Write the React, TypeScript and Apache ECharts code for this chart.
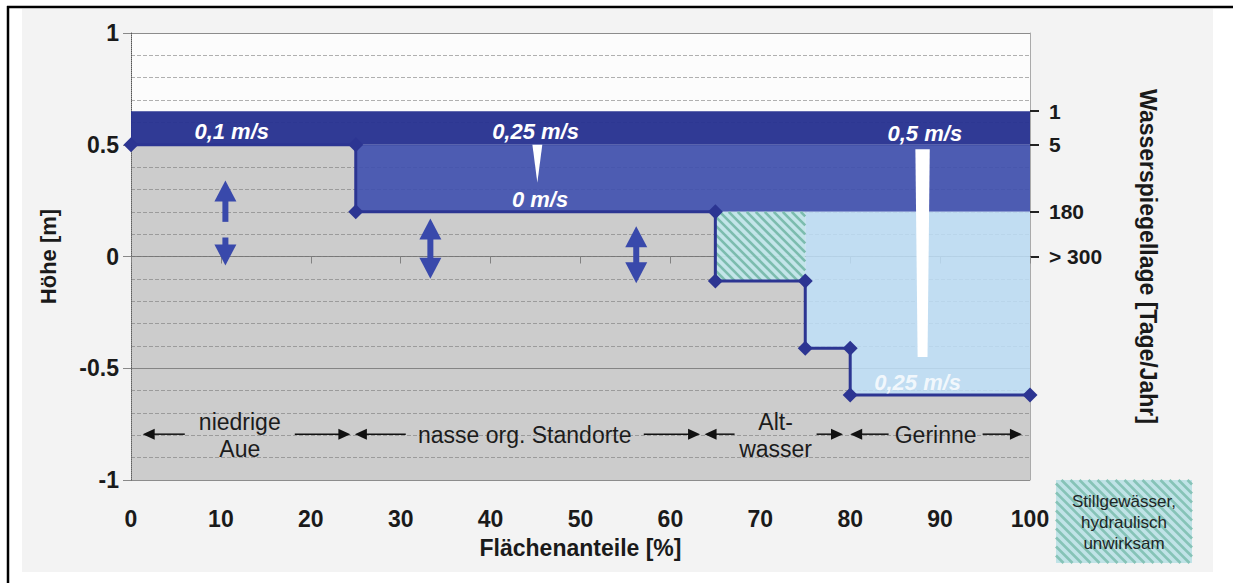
import React, { useEffect, useRef } from "react";
import * as echarts from "echarts";

const FONT = '"Liberation Sans", Arial, Helvetica, sans-serif';

// ---------------- data ----------------
// ground / water-level profile (Flächenanteil %, Höhe m)
const profileX = [0, 25, 25, 65, 65, 75, 75, 80, 80, 100];
const profileY = [0.5, 0.5, 0.2, 0.2, -0.11, -0.11, -0.41, -0.41, -0.62, -0.62];

// right axis: Wasserspiegellage [Tage/Jahr]
const waterLevelY = [0.65, 0.5, 0.2, 0];
const waterLevelDays = ["1", "5", "180", "> 300"];

// water bodies
const floodBandX = [0, 100];
const floodBandY = [0.5, 0.65];
const wetBandX = [25, 100];
const wetBandY = [0.2, 0.5];
const stillWaterX = [65, 75];
const stillWaterY = [-0.11, 0.2];
const channelFromX = 75;
const channelTopY = 0.2;

// white velocity markers
const markerTriangle = [[44.65, 0.5], [45.75, 0.5], [45.2, 0.33]];
const markerWedge = [[87.25, 0.48], [88.85, 0.48], [88.6, -0.45], [87.5, -0.45]];

// velocity labels
const velocityLabels = ["0,1 m/s", "0,25 m/s", "0 m/s", "0,5 m/s", "0,25 m/s"];
const velocityX = [11.2, 45, 45.5, 88.3, 87.5];
const velocityY = [0.56, 0.56, 0.255, 0.55, -0.565];

// double arrows (water table fluctuation)
const arrowX = [10.5, 33.3, 56.2];
const arrowTop = [0.34, 0.17, 0.135];
const arrowBottom = [-0.04, -0.1, -0.12];
const arrowGapTop = [0.155, null, null];
const arrowGapBottom = [0.085, null, null];

// zones along the x axis
const zoneLabels = ["niedrige\nAue", "nasse org. Standorte", "Alt-\nwasser", "Gerinne"];
const zoneStart = [1.3, 24.9, 63.8, 80.0];
const zoneEnd = [24.4, 63.3, 79.2, 99.1];
const zoneCenter = [12.1, 43.8, 71.7, 89.5];
const zoneY = -0.795;

const legendText = "Stillgewässer,\nhydraulisch\nunwirksam";

// ---------------- styles ----------------
const zoneGapPx = [55, 119, 41, 47];
const DARK = "#2c3592";

function rectPoly(xs: number[], ys: number[]) {
  return [[xs[0], ys[0]], [xs[0], ys[1]], [xs[1], ys[1]], [xs[1], ys[0]]];
}

const profilePts = profileX.map((x, i) => [x, profileY[i]]);
const greyPoly = [[0, -1], ...profilePts, [100, -1]];
const channelPoly = [
  [channelFromX, channelTopY],
  [100, channelTopY],
  ...profilePts.slice(profileX.lastIndexOf(channelFromX)).reverse(),
];

const fillPolys = [
  greyPoly,
  rectPoly(floodBandX, floodBandY),
  rectPoly(wetBandX, wetBandY),
  channelPoly,
  rectPoly(stillWaterX, stillWaterY),
  markerTriangle,
  markerWedge,
];
const fillStyles: any[] = [
  { fill: "rgba(118,118,118,0.36)" },
  { fill: "rgba(40,50,145,0.96)" },
  { fill: "rgba(64,80,172,0.93)" },
  { fill: "rgba(186,217,241,0.9)" },
  { fill: "rgba(192,228,232,0.95)", stripes: "#7cbcae" },
  { fill: "#ffffff" },
  { fill: "#ffffff" },
];

function stripeSegments(x0: number, y0: number, x1: number, y1: number, step: number) {
  const segs: number[][] = [];
  for (let c = y0 - x1 + step / 2; c < y1 - x0; c += step) {
    const xa = Math.max(x0, y0 - c);
    const xb = Math.min(x1, y1 - c);
    if (xb > xa) segs.push([xa, xa + c, xb, xb + c]);
  }
  return segs;
}

function stripeLines(x0: number, y0: number, x1: number, y1: number, color: string, step = 11, w = 3.2) {
  return stripeSegments(x0, y0, x1, y1, step).map((s) => ({
    type: "line",
    shape: { x1: s[0], y1: s[1], x2: s[2], y2: s[3] },
    style: { stroke: color, lineWidth: w },
    silent: true,
  }));
}

export default function App() {
  const ref = useRef<HTMLDivElement>(null);

  useEffect(() => {
    if (!ref.current) return;
    const chart = echarts.init(ref.current, undefined, { renderer: "svg" });

    const boldText = { fontFamily: FONT, fontWeight: "bold", color: "#1a1a1a" };

    const option: any = {
      animation: false,
      backgroundColor: "transparent",
      grid: {
        left: 131,
        right: 203,
        top: 33,
        bottom: 103,
        show: true,
        backgroundColor: "#fcfcfc",
        borderWidth: 0,
      },
      xAxis: {
        type: "value",
        min: 0,
        max: 100,
        interval: 10,
        name: "Flächenanteile [%]",
        nameLocation: "middle",
        nameGap: 56,
        nameTextStyle: { ...boldText, fontSize: 23 },
        axisLine: { show: true, lineStyle: { color: "#777", type: "dashed" } },
        axisTick: { show: true, length: 7, lineStyle: { color: "#888" } },
        axisLabel: { ...boldText, fontSize: 23, margin: 27 },
        splitLine: { show: false },
      },
      yAxis: [
        {
          type: "value",
          min: -1,
          max: 1,
          interval: 0.5,
          position: "left",
          name: "Höhe [m]",
          nameLocation: "middle",
          nameRotate: 90,
          nameGap: 72,
          nameTextStyle: { ...boldText, fontSize: 22 },
          axisLine: { show: true, lineStyle: { color: "#555", type: "dotted" } },
          axisTick: { show: true, length: 8, lineStyle: { color: "#888" } },
          axisLabel: { ...boldText, fontSize: 23, margin: 12 },
          splitLine: { show: true, lineStyle: { color: "#8c8c8c", width: 1 } },
          minorTick: { show: false, splitNumber: 5 },
          minorSplitLine: { show: true, lineStyle: { color: "#b0b0b0", type: "dashed", width: 1 } },
        },
        {
          type: "value",
          min: -1,
          max: 1,
          position: "right",
          name: "Wasserspiegellage [Tage/Jahr]",
          nameLocation: "middle",
          nameRotate: -90,
          nameGap: 106,
          nameTextStyle: { ...boldText, fontSize: 23 },
          axisLine: { show: true, lineStyle: { color: "#aaa" } },
          axisTick: {
            show: true,
            customValues: waterLevelY,
            length: 9,
            lineStyle: { color: "#222", width: 2 },
          },
          axisLabel: {
            ...boldText,
            fontSize: 21,
            margin: 19,
            customValues: waterLevelY,
            formatter: (v: number) => {
              const i = waterLevelY.findIndex((w) => Math.abs(w - v) < 1e-6);
              return i >= 0 ? waterLevelDays[i] : "";
            },
          },
          splitLine: { show: false },
        },
      ],
      series: [
        {
          type: "custom",
          name: "fills",
          z: 1,
          data: fillPolys.map((p) => p[0]),
          renderItem: (params: any, api: any) => {
            const i = params.dataIndex;
            const pts = fillPolys[i].map((p) => api.coord(p));
            const st = fillStyles[i];
            if (st.stripes) {
              const xs = pts.map((p: number[]) => p[0]);
              const ys = pts.map((p: number[]) => p[1]);
              const x0 = Math.min(...xs), x1 = Math.max(...xs);
              const y0 = Math.min(...ys), y1 = Math.max(...ys);
              return {
                type: "group",
                children: [
                  { type: "polygon", shape: { points: pts }, style: { fill: st.fill } },
                  ...stripeLines(x0, y0, x1, y1, st.stripes, 9, 2.6),
                ],
              };
            }
            return { type: "polygon", shape: { points: pts }, style: { fill: st.fill } };
          },
        },
        {
          type: "line",
          name: "Profil",
          z: 5,
          clip: false,
          data: profilePts,
          symbol: "diamond",
          symbolSize: 15,
          lineStyle: { color: DARK, width: 3 },
          itemStyle: { color: DARK },
        },
        {
          type: "custom",
          name: "arrows",
          z: 4,
          data: arrowX.map((x, i) => [x, arrowTop[i], arrowBottom[i]]),
          renderItem: (params: any, api: any) => {
            const i = params.dataIndex;
            const [tx, ty] = api.coord([arrowX[i], arrowTop[i]]);
            const by = api.coord([arrowX[i], arrowBottom[i]])[1];
            const hw = 11, hh = 21, sw = 3;
            const col = "#3949ab";
            const children: any[] = [
              { type: "polygon", shape: { points: [[tx, ty], [tx - hw, ty + hh], [tx + hw, ty + hh]] }, style: { fill: col } },
              { type: "polygon", shape: { points: [[tx, by], [tx - hw, by - hh], [tx + hw, by - hh]] }, style: { fill: col } },
            ];
            const gt = arrowGapTop[i];
            const gb = arrowGapBottom[i];
            if (gt != null && gb != null) {
              const gy1 = api.coord([arrowX[i], gt])[1];
              const gy2 = api.coord([arrowX[i], gb])[1];
              children.push({ type: "rect", shape: { x: tx - sw, y: ty + hh - 1, width: sw * 2, height: gy1 - (ty + hh - 1) }, style: { fill: col } });
              children.push({ type: "rect", shape: { x: tx - sw, y: gy2, width: sw * 2, height: by - hh + 1 - gy2 }, style: { fill: col } });
            } else {
              children.push({ type: "rect", shape: { x: tx - sw, y: ty + hh - 1, width: sw * 2, height: by - ty - 2 * hh + 2 }, style: { fill: col } });
            }
            return { type: "group", children };
          },
        },
        {
          type: "custom",
          name: "velocities",
          z: 6,
          data: velocityX.map((x, i) => [x, velocityY[i]]),
          renderItem: (params: any, api: any) => {
            const i = params.dataIndex;
            const [cx, cy] = api.coord([velocityX[i], velocityY[i]]);
            return {
              type: "text",
              x: cx,
              y: cy,
              style: {
                text: velocityLabels[i],
                fill: i === 4 ? "rgba(255,255,255,0.8)" : "#ffffff",
                fontFamily: FONT,
                fontSize: 22,
                fontWeight: "bold",
                fontStyle: "italic",
                align: "center",
                verticalAlign: "middle",
              },
            };
          },
        },
        {
          type: "custom",
          name: "zones",
          z: 6,
          data: zoneCenter.map((x) => [x, zoneY]),
          renderItem: (params: any, api: any) => {
            const i = params.dataIndex;
            const [cx, cy] = api.coord([zoneCenter[i], zoneY]);
            const sx = api.coord([zoneStart[i], zoneY])[0];
            const ex = api.coord([zoneEnd[i], zoneY])[0];
            const g = zoneGapPx[i];
            const hl = 12, hh = 5.5;
            const col = "#111";
            return {
              type: "group",
              children: [
                {
                  type: "text",
                  x: cx,
                  y: cy + 1,
                  style: {
                    text: zoneLabels[i],
                    fill: "#1c1c1c",
                    fontFamily: FONT,
                    fontSize: 23,
                    lineHeight: 27,
                    align: "center",
                    verticalAlign: "middle",
                  },
                },
                { type: "line", shape: { x1: sx + hl - 1, y1: cy, x2: cx - g, y2: cy }, style: { stroke: col, lineWidth: 1.5 } },
                { type: "polygon", shape: { points: [[sx, cy], [sx + hl, cy - hh], [sx + hl, cy + hh]] }, style: { fill: col } },
                { type: "line", shape: { x1: cx + g, y1: cy, x2: ex - hl + 1, y2: cy }, style: { stroke: col, lineWidth: 1.5 } },
                { type: "polygon", shape: { points: [[ex, cy], [ex - hl, cy - hh], [ex - hl, cy + hh]] }, style: { fill: col } },
              ],
            };
          },
        },
      ],
      graphic: [
        {
          type: "group",
          children: [
            { type: "rect", shape: { x: 1056, y: 480, width: 136, height: 83 }, style: { fill: "#c0e3e7" } },
            ...stripeLines(1056, 480, 1192, 563, "#86c3b7", 9, 2.6),
            {
              type: "text",
              x: 1124,
              y: 522,
              style: {
                text: legendText,
                fill: "#1e2626",
                fontFamily: FONT,
                fontSize: 17,
                lineHeight: 21,
                align: "center",
                verticalAlign: "middle",
              },
            },
          ],
        },
        { type: "line", shape: { x1: 7, y1: 7, x2: 1233, y2: 7 }, style: { stroke: "#000", lineWidth: 2.5 } },
        { type: "line", shape: { x1: 8, y1: 6, x2: 8, y2: 583 }, style: { stroke: "#000", lineWidth: 2.5 } },
      ],
    };

    chart.setOption(option);
    return () => chart.dispose();
  }, []);

  return (
    <div style={{ position: "absolute", left: 0, top: 0, width: 1233, height: 583, background: "#ffffff" }}>
      <div style={{ position: "absolute", left: 22, top: 9, width: 1191, height: 563, background: "#f3f3f3" }} />
      <div ref={ref} style={{ position: "absolute", left: 0, top: 0, width: 1233, height: 583 }} />
    </div>
  );
}
